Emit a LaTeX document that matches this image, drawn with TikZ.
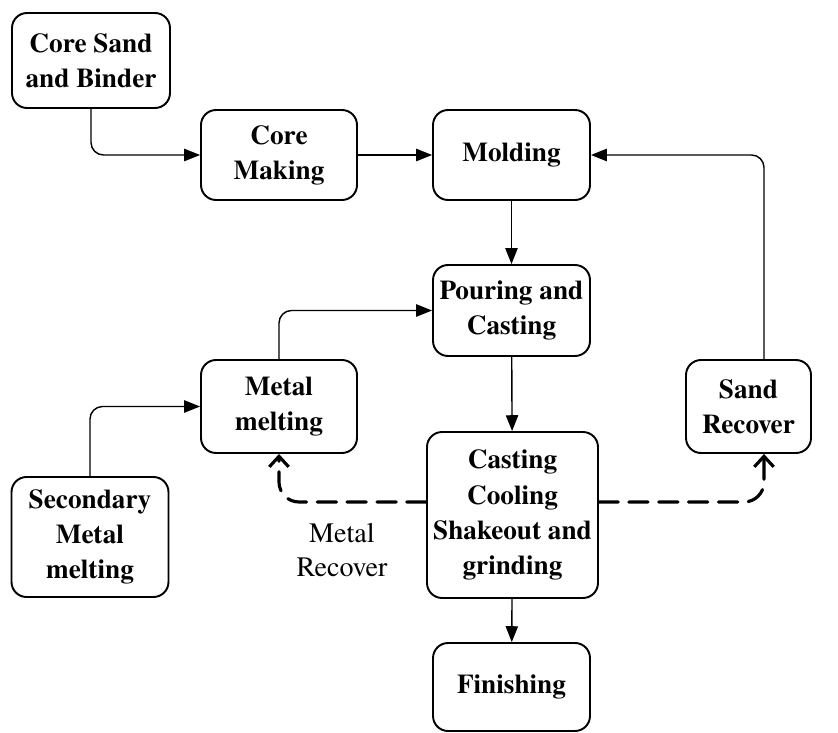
\documentclass[tikz,border=0pt]{standalone}
\usepackage{fontspec}
\setmainfont{texgyretermes}[Extension=.otf,UprightFont=*-regular,BoldFont=*-bold,ItalicFont=*-italic,BoldItalicFont=*-bolditalic]
\usetikzlibrary{arrows.meta}
\begin{document}
\begin{tikzpicture}[x=0.02cm,y=-0.02cm,
    stage/.style={draw,line width=1.1pt,rounded corners=0.3cm,align=center,
      font=\fontsize{15.5}{20}\selectfont\bfseries,inner sep=2pt},
    flow/.style={line width=0.8pt,-{Triangle[length=9pt,width=7pt]},rounded corners=0.25cm},
    recover/.style={line width=1.8pt,dash pattern=on 11pt off 6pt,line cap=round,
      -{Straight Barb[length=6pt,width=11pt,line width=1.8pt]},rounded corners=0.4cm}]
  \useasboundingbox (0,0) rectangle (838,733);
  \path
    (91,60.5) node[stage,minimum width=3.16cm,minimum height=1.9cm] (sand) {Core Sand\\and Binder}
    (279,155) node[stage,minimum width=3.12cm,minimum height=1.8cm] (core) {Core\\Making}
    (511.5,155) node[stage,minimum width=3.14cm,minimum height=1.8cm] (mold) {Molding}
    (511.5,310.5) node[stage,minimum width=3.14cm,minimum height=1.82cm] (pour) {Pouring and\\Casting}
    (279,406.5) node[stage,minimum width=3.12cm,minimum height=1.86cm] (melt) {Metal\\melting}
    (748.5,406.5) node[stage,minimum width=2.5cm,minimum height=1.86cm] (srec) {Sand\\Recover}
    (512.5,515) node[stage,minimum width=3.42cm,minimum height=3.32cm] (cool) {Casting\\Cooling\\Shakeout and\\grinding}
    (90,537) node[stage,minimum width=3.14cm,minimum height=2.4cm] (smelt) {Secondary\\Metal\\melting}
    (511.5,687) node[stage,minimum width=3.14cm,minimum height=1.76cm] (fin) {Finishing}
    (342,550) node[align=center,font=\fontsize{16}{19}\selectfont] (mrec) {Metal\\Recover};
  \coordinate (srtop) at ([xshift=0.31cm]srec.north);
  \coordinate (srbot) at ([xshift=0.31cm]srec.south);
  \coordinate (cwest) at ([yshift=0.26cm]cool.west);
  \coordinate (ceast) at ([yshift=0.26cm]cool.east);
  \draw[flow] (sand.south) |- (core.west);
  \draw[flow] (core) -- (mold);
  \draw[flow] (mold) -- (pour);
  \draw[flow] (melt.north) |- (pour.west);
  \draw[flow] (smelt.north) |- (melt.west);
  \draw[flow] (pour) -- (cool);
  \draw[flow] (cool) -- (fin);
  \draw[flow] (srtop) |- (mold.east);
  \draw[recover] (cwest) -| (melt.south);
  \draw[recover] (ceast) -| (srbot);
\end{tikzpicture}
\end{document}
